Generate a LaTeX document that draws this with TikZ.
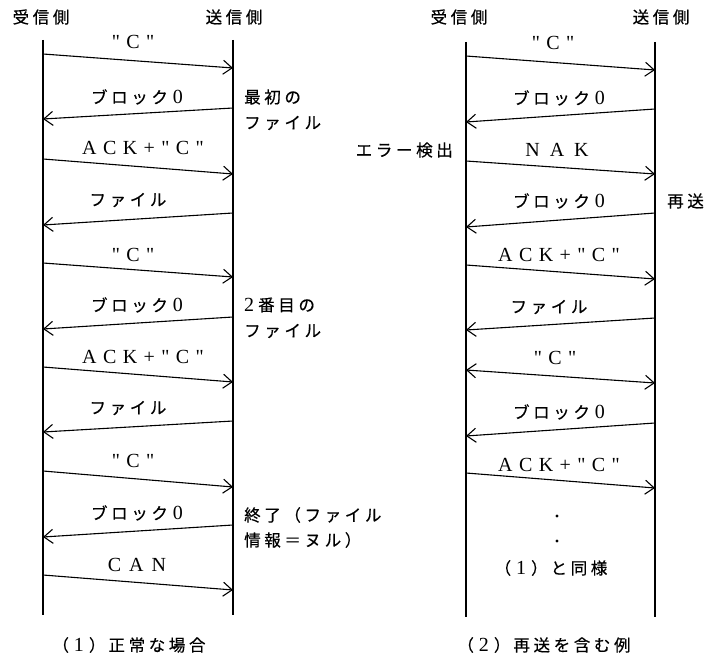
\documentclass[tikz,border=0pt]{standalone}
\usepackage{fontspec}
\usetikzlibrary{arrows.meta}
\newfontfamily\jpf[LetterSpace=22,FakeBold=0.4]{Noto Sans CJK JP}
\newfontfamily\ltf[LetterSpace=32]{Liberation Serif}
\newcommand{\lt}[1]{{\ltf\fontsize{20}{22}\selectfont #1}}
\tikzset{
  life/.style={line width=1.1pt},
  msg/.style={line width=1.1pt,-{Straight Barb[length=9pt,width=14pt,line width=1.1pt]}},
  msgboth/.style={line width=1.1pt,{Straight Barb[length=9pt,width=14pt,line width=1.1pt]}-{Straight Barb[length=9pt,width=14pt,line width=1.1pt]}},
  lab/.style={font=\jpf\fontsize{16.5}{18}\selectfont, inner sep=0pt},
  note/.style={lab, anchor=west, align=left},
}
\newcommand{\blk}{ブロック\hspace{5pt}\lt{0}}
\newcommand{\ackc}{\lt{ACK+"C"}}
\newcommand{\qc}{\lt{"C"}}
\newcommand{\num}[1]{（\hspace{5pt}\lt{#1}\hspace{5pt}）\hspace{3pt}}
\begin{document}
\begin{tikzpicture}[x=1pt,y=-1pt]
\useasboundingbox (0,0) rectangle (706,655);
% ---------- diagram 1 ----------
\node[lab] (h1r) at (41,17) {受信側};
\node[lab] (h1s) at (234,17) {送信側};
\coordinate (l1t) at (43,40);  \coordinate (l1b) at (43,615);
\coordinate (r1t) at (233,40); \coordinate (r1b) at (233,615);
\draw[life] (l1t) -- (l1b);
\draw[life] (r1t) -- (r1b);
% messages
\coordinate (a1) at (43,54);   \coordinate (b1) at (233,68);
\coordinate (a2) at (233,108); \coordinate (b2) at (43,119);
\coordinate (a3) at (43,159);  \coordinate (b3) at (233,174);
\coordinate (a4) at (233,213); \coordinate (b4) at (43,225);
\coordinate (a5) at (43,263);  \coordinate (b5) at (233,277);
\coordinate (a6) at (233,317); \coordinate (b6) at (43,329);
\coordinate (a7) at (43,367);  \coordinate (b7) at (233,382);
\coordinate (a8) at (233,421); \coordinate (b8) at (43,432);
\coordinate (a9) at (43,471);  \coordinate (b9) at (233,487);
\coordinate (a10) at (233,525); \coordinate (b10) at (43,537);
\coordinate (a11) at (43,575); \coordinate (b11) at (233,590);
\foreach \i in {1,...,11} {\draw[msg] (a\i) -- (b\i);}
\node[lab] (t1) at (133,42) {\qc};
\node[lab] (t2) at (137,97) {\blk};
\node[lab] (t3) at (143,148) {\ackc};
\node[lab] (t4) at (128,200) {ファイル};
\node[lab] (t5) at (133,255) {\qc};
\node[lab] (t6) at (137,305) {\blk};
\node[lab] (t7) at (143,357) {\ackc};
\node[lab] (t8) at (128,408) {ファイル};
\node[lab] (t9) at (133,461) {\qc};
\node[lab] (t10) at (137,513) {\blk};
\node[lab] (t11) at (137,565) {\lt{C\hspace{8pt}A\hspace{8pt}N}};
\node[note] (n1) at (244,97) {最初の};
\node[note] (n1b) at (244,123) {ファイル};
\node[note] (n2) at (244,305) {\lt{2}\hspace{4pt}番目の};
\node[note] (n2b) at (244,331) {ファイル};
\node[note] (n3) at (244,515) {終了（ファイル};
\node[note] (n3b) at (244,540) {情報＝ヌル）};
\node[lab] (c1) at (129,645) {\num{1}正常な場合};
% ---------- diagram 2 ----------
\node[lab] (h2r) at (459,17) {受信側};
\node[lab] (h2s) at (661,17) {送信側};
\coordinate (l2t) at (466,42);  \coordinate (l2b) at (466,617);
\coordinate (r2t) at (655,42);  \coordinate (r2b) at (655,617);
\draw[life] (l2t) -- (l2b);
\draw[life] (r2t) -- (r2b);
\coordinate (p1) at (466,56);  \coordinate (q1) at (655,70);
\coordinate (p2) at (655,109); \coordinate (q2) at (466,122);
\coordinate (p3) at (466,161); \coordinate (q3) at (655,174);
\coordinate (p4) at (655,213); \coordinate (q4) at (466,227);
\coordinate (p5) at (466,265); \coordinate (q5) at (655,279);
\coordinate (p6) at (655,318); \coordinate (q6) at (466,330);
\coordinate (p7) at (466,370); \coordinate (q7) at (655,383);
\coordinate (p8) at (655,423); \coordinate (q8) at (466,436);
\coordinate (p9) at (466,473); \coordinate (q9) at (655,488);
\foreach \i in {1,2,3,4,5,6,8,9} {\draw[msg] (p\i) -- (q\i);}
\draw[msgboth] (p7) -- (q7);
\node[lab] (s1) at (553,43) {\qc};
\node[lab] (s2) at (559,98) {\blk};
\node[lab] (s3) at (557,150) {\lt{N\hspace{10pt}A\hspace{10pt}K}};
\node[lab] (s4) at (559,201) {\blk};
\node[lab] (s5) at (559,255) {\ackc};
\node[lab] (s6) at (549,307) {ファイル};
\node[lab] (s7) at (555,358) {\qc};
\node[lab] (s8) at (559,412) {\blk};
\node[lab] (s9) at (559,465) {\ackc};
\node[lab, anchor=east] (e1) at (453,150) {エラー検出};
\node[note] (e2) at (667,201) {再送};
\fill (557,516) coordinate (d1) circle (1.7pt);
\fill (557,541) coordinate (d2) circle (1.7pt);
\node[lab] (same) at (551,568) {\num{1}と同様};
\node[lab] (c2) at (544,645) {\num{2}再送を含む例};
\end{tikzpicture}
\end{document}
